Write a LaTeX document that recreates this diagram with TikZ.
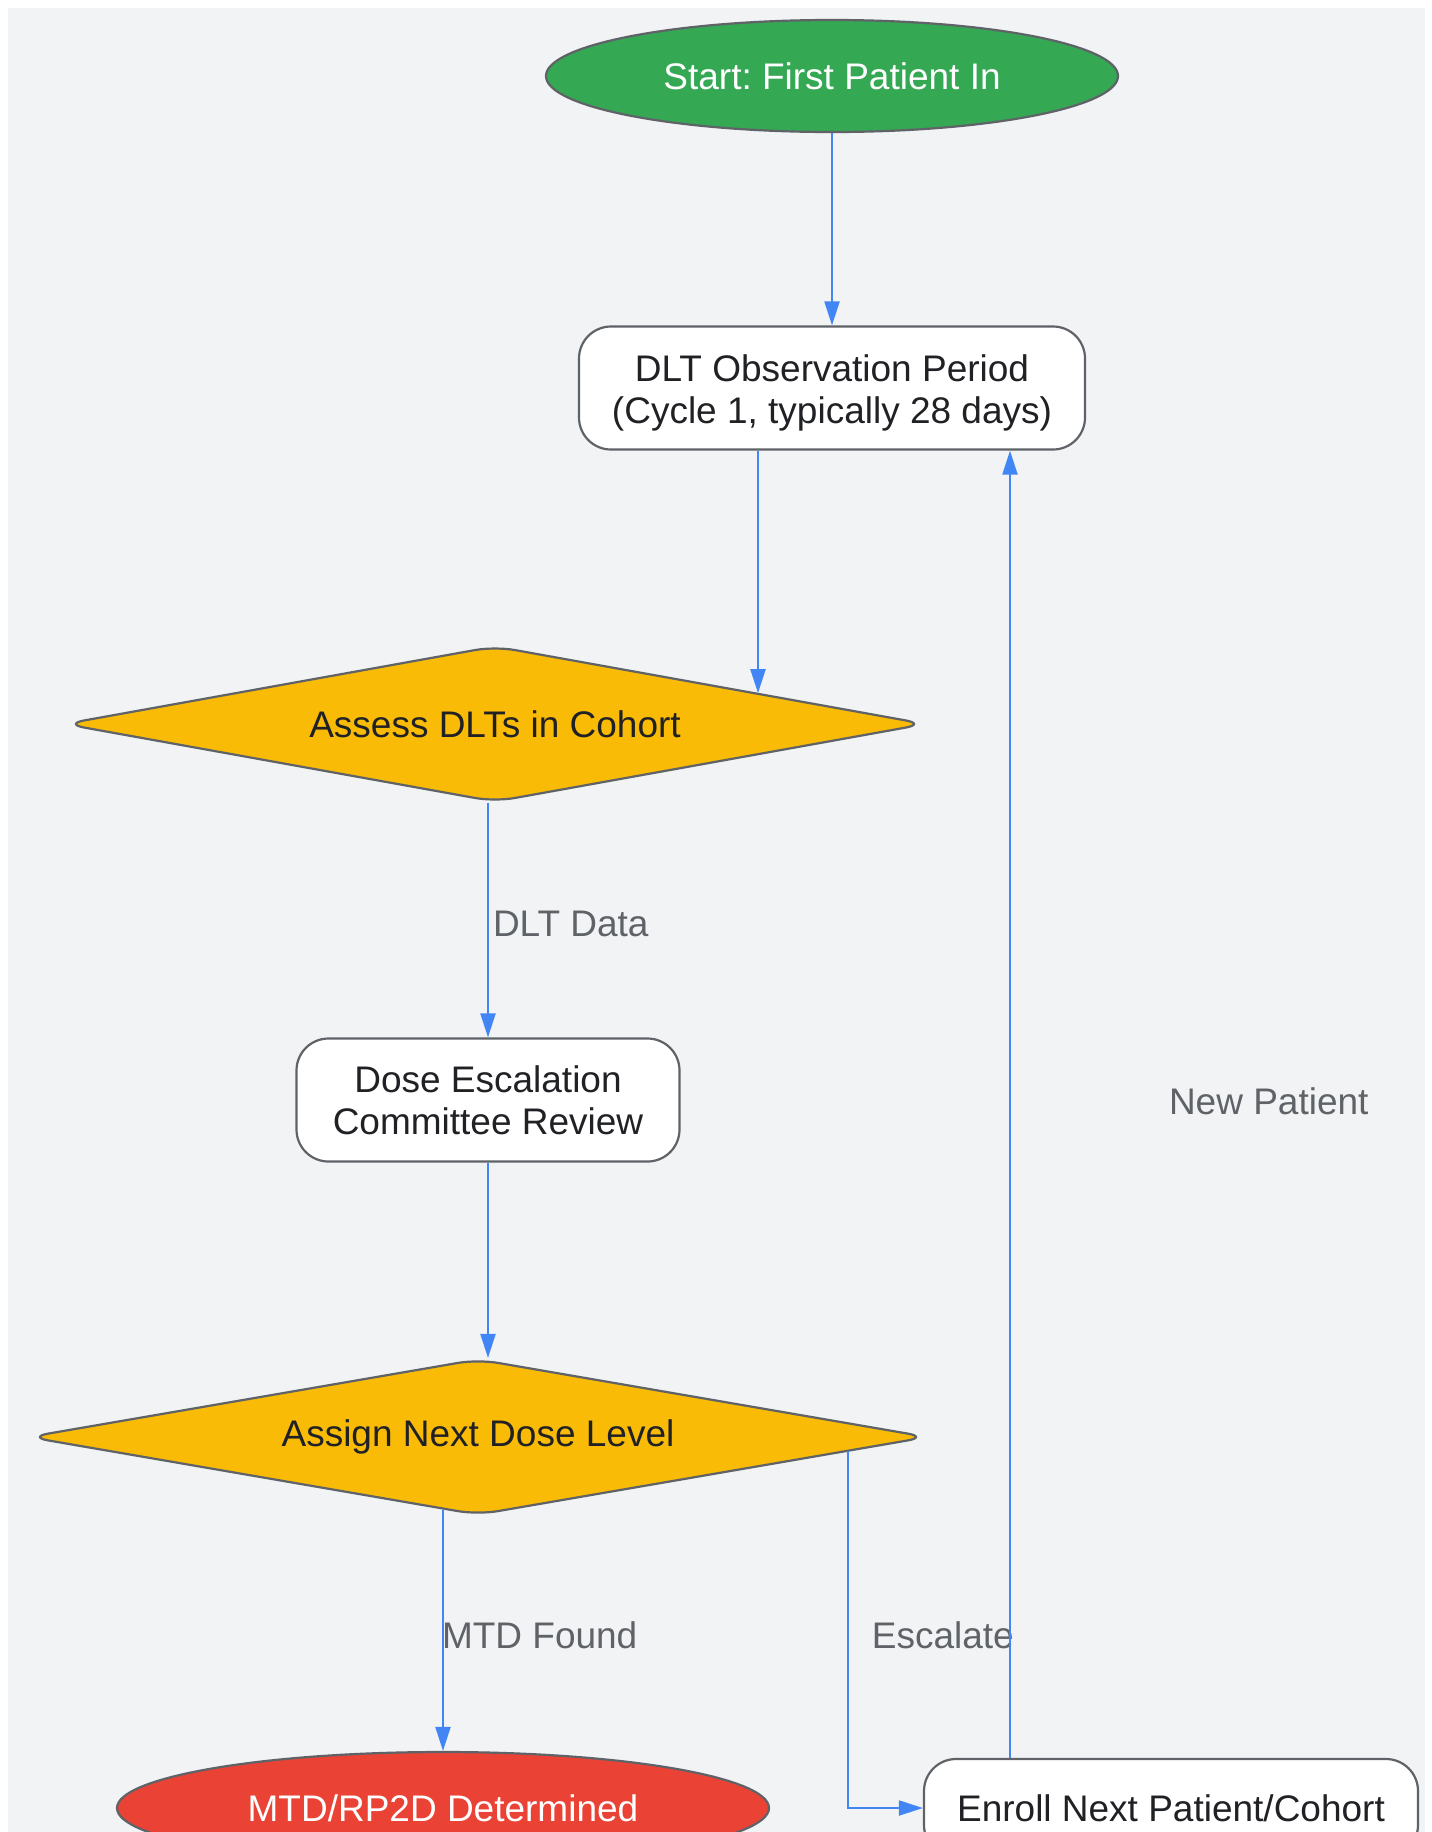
\documentclass[tikz,border=0pt]{standalone}
\usepackage{fontspec}
\setmainfont{Liberation Sans}
\usetikzlibrary{shapes.geometric,arrows.meta,calc}
\definecolor{bgc}{HTML}{F1F3F4}
\definecolor{bordc}{HTML}{5F6368}
\definecolor{grn}{HTML}{34A853}
\definecolor{ambr}{HTML}{F9BB05}
\definecolor{rdc}{HTML}{EA4335}
\definecolor{blu}{HTML}{4285F4}
\definecolor{txt}{HTML}{202124}
\definecolor{lblc}{HTML}{5F6368}
\frenchspacing
\begin{document}
\begin{tikzpicture}[x=1pt,y=-1pt,
  base/.style={draw=bordc, line width=2.2pt, font=\fontsize{37}{42}\selectfont, align=center, inner sep=0pt},
  proc/.style={base, rectangle, rounded corners=32pt, fill=white, text=txt},
  term/.style={base, ellipse, text=white},
  dec/.style={base, diamond, fill=ambr, rounded corners=20pt, text=txt},
  arr/.style={draw=blu, line width=2pt, -{Triangle[length=24pt,width=15pt]}},
  lbl/.style={text=lblc, font=\fontsize{37}{42}\selectfont, inner sep=0pt}]
\useasboundingbox (0,0) rectangle (1432,1832);
\fill[bgc] (8,8) rectangle (1425,1845);

\node[term, fill=grn, minimum width=572pt, minimum height=112pt] (start) at (832,76) {Start: First Patient In};
\node[proc, minimum width=506pt, minimum height=123pt] (dlt) at (832,388) {\rule{0pt}{37pt}DLT Observation Period\\(Cycle 1, typically 28 days)};
\node[dec, aspect=5.5, minimum width=862pt, minimum height=156pt] (assess) at (495,724) {Assess DLTs in Cohort};
\node[proc, minimum width=383pt, minimum height=123pt] (dose) at (488,1100) {Dose Escalation\\Committee Review};
\node[dec, aspect=5.7, minimum width=900pt, minimum height=156pt] (assign) at (478,1437) {Assign Next Dose Level};
\node[term, fill=rdc, minimum width=652pt, minimum height=112pt] (mtd) at (443,1808) {MTD/RP2D Determined};
\node[proc, minimum width=494pt, minimum height=98pt] (enroll) at (1171,1808) {Enroll Next Patient/Cohort};

\coordinate (npx) at ($(dlt.south)+(178,0)$);
\coordinate (ax) at ($(dlt.south)+(-74,0)$);
\coordinate (ain) at ($(assess.north)!0.61!(assess.east)$);
\coordinate (mstart) at ($(assign.south)!0.08!(assign.west)$);
\coordinate (estart) at ($(assign.south)!0.82!(assign.east)$);

\draw[arr] (start) -- (dlt);
\draw[arr] (ax) -- (ax |- ain);
\draw[arr] (assess.south -| dose.north) -- node[lbl, anchor=west, xshift=4pt, yshift=-4pt] {DLT Data} (dose.north);
\draw[arr] (dose.south) -- (dose.south |- assign.north);
\draw[arr] (mstart -| mtd.north) -- node[lbl, anchor=west, xshift=-2pt, yshift=-5pt] {MTD Found} (mtd.north);
\draw[arr] (estart) |- node[lbl, pos=0.25, anchor=west, xshift=23pt, yshift=-6pt] {Escalate} (enroll.west);
\draw[arr] (enroll.north -| npx) -- node[lbl, anchor=west, xshift=158pt, yshift=3pt] {New Patient} (npx);
\end{tikzpicture}
\end{document}
